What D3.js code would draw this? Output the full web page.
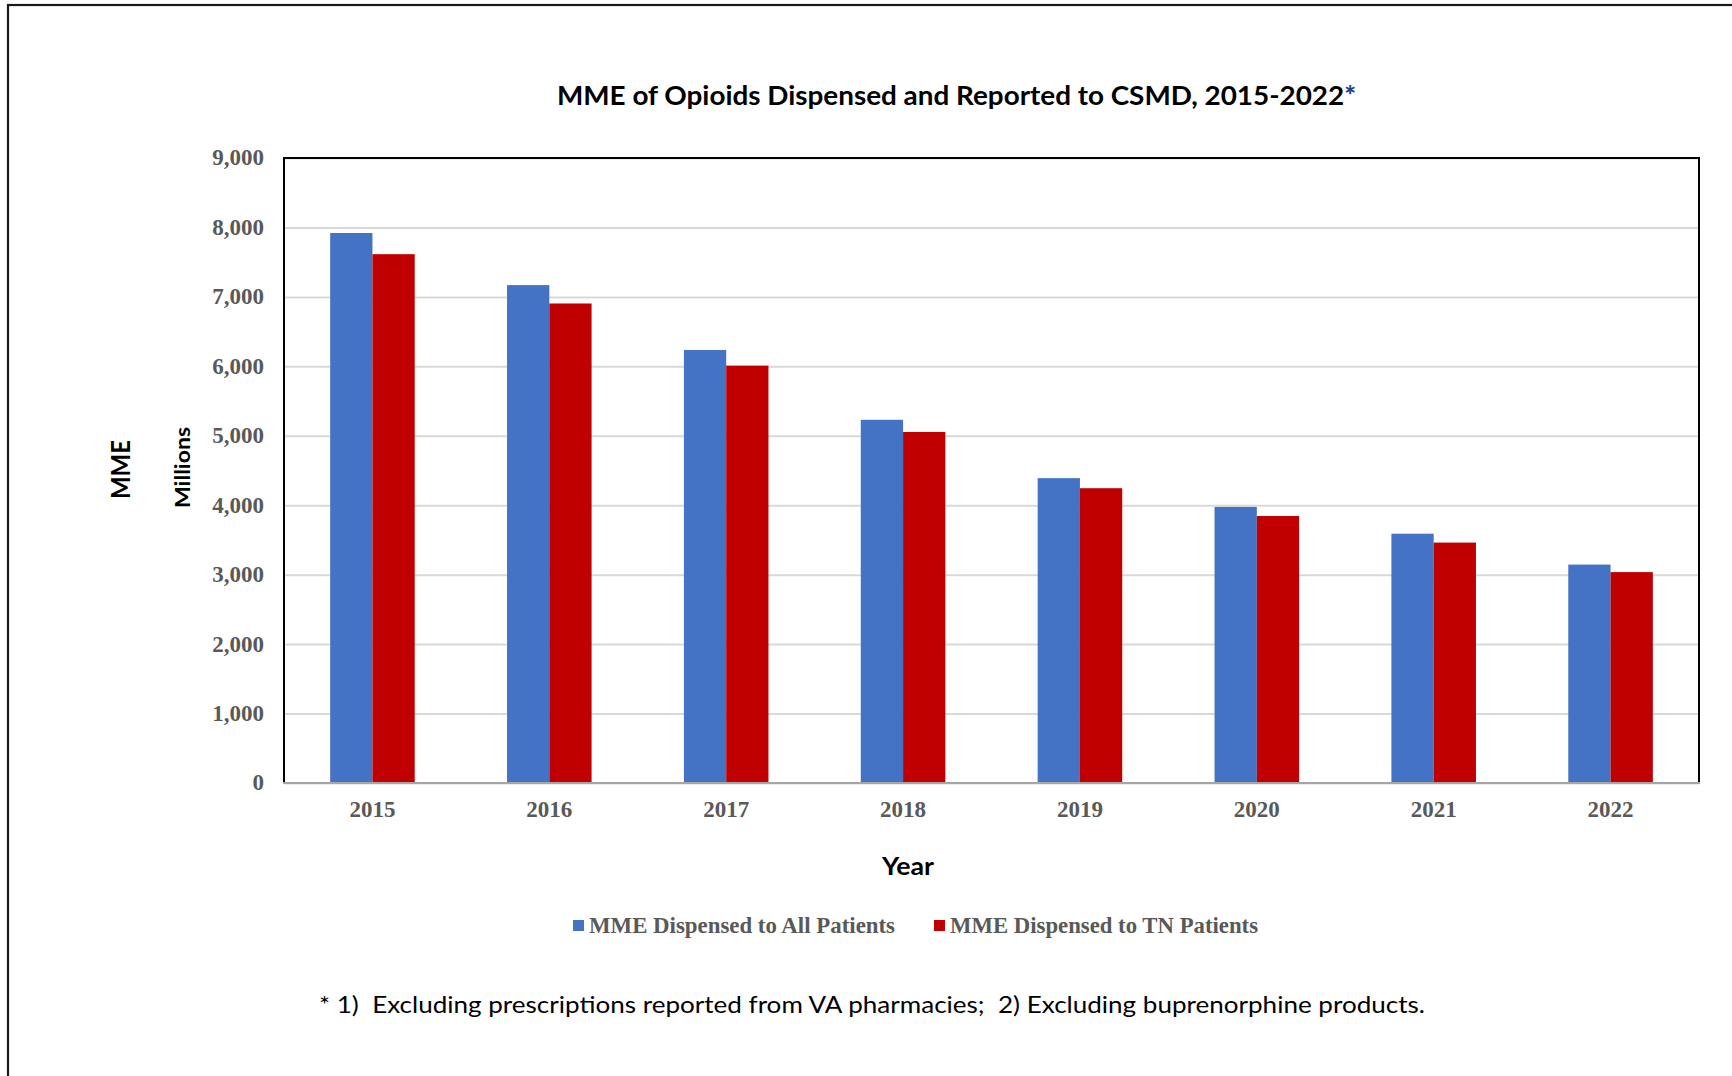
<!DOCTYPE html>
<html>
<head>
<meta charset="utf-8">
<script src="https://cdn.jsdelivr.net/npm/d3@7"></script>
<style>
  html, body { margin: 0; padding: 0; background: #fff; }
  svg { display: block; }
</style>
</head>
<body>
<svg id="chart" width="1732" height="1076"></svg>
<script>
const years = ['2015', '2016', '2017', '2018', '2019', '2020', '2021', '2022'];
const allPatients = [7920, 7170, 6235, 5230, 4390, 3975, 3590, 3145];
const tnPatients = [7615, 6905, 6010, 5055, 4245, 3845, 3462, 3037];
const seriesNames = ['MME Dispensed to All Patients', 'MME Dispensed to TN Patients'];
const yTicks = [0, 1000, 2000, 3000, 4000, 5000, 6000, 7000, 8000, 9000];

const colors = ['#4472C4', '#C00000'];
const svg = d3.select('#chart');

// outer frame
svg.append('rect')
  .attr('x', 8).attr('y', 5).attr('width', 1800).attr('height', 1200)
  .attr('fill', 'none').attr('stroke', '#1a1a1a').attr('stroke-width', 2.2);

const plot = { left: 284, right: 1699, top: 158, bottom: 783 };

const x0 = d3.scaleBand().domain(years).range([plot.left, plot.right])
  .paddingInner(0.522).paddingOuter(0.261);
const x1 = d3.scaleBand().domain([0, 1]).range([0, x0.bandwidth()]);
const y = d3.scaleLinear().domain([0, 9000]).range([plot.bottom, plot.top]);

// gridlines
const grid = svg.append('g')
  .attr('transform', `translate(${plot.left},0)`)
  .call(d3.axisLeft(y).tickValues(yTicks).tickSize(-(plot.right - plot.left)).tickFormat(''));
grid.select('.domain').remove();
grid.selectAll('line').attr('stroke', '#d9d9d9').attr('stroke-width', 2);

// bars
const series = [allPatients, tnPatients];
series.forEach((vals, si) => {
  svg.append('g').selectAll('rect')
    .data(years.map((yr, i) => ({ yr, v: vals[i] })))
    .join('rect')
    .attr('x', d => x0(d.yr) + x1(si))
    .attr('y', d => y(d.v))
    .attr('width', x1.bandwidth())
    .attr('height', d => y(0) - y(d.v))
    .attr('fill', colors[si]);
});

// plot frame
svg.append('path')
  .attr('d', `M${plot.left},${plot.bottom} L${plot.left},${plot.top} L${plot.right},${plot.top} L${plot.right},${plot.bottom}`)
  .attr('fill', 'none').attr('stroke', '#000').attr('stroke-width', 2);
svg.append('line')
  .attr('x1', plot.left - 1).attr('x2', plot.right + 1)
  .attr('y1', plot.bottom).attr('y2', plot.bottom)
  .attr('stroke', '#a6a6a6').attr('stroke-width', 2);

// y axis labels
const yAxis = svg.append('g')
  .attr('transform', `translate(${plot.left},0)`)
  .call(d3.axisLeft(y).tickValues(yTicks).tickSize(0).tickPadding(20).tickFormat(d3.format(',')));
yAxis.select('.domain').remove();
yAxis.selectAll('text')
  .attr('font-family', '"Liberation Serif", "Times New Roman", serif')
  .attr('font-weight', 'bold').attr('font-size', 23).attr('fill', '#595959')
  .attr('dy', '0.3em');

// x axis labels
const xAxis = svg.append('g')
  .attr('transform', `translate(0,${plot.bottom})`)
  .call(d3.axisBottom(x0).tickSize(0).tickPadding(0));
xAxis.select('.domain').remove();
xAxis.selectAll('text')
  .attr('font-family', '"Liberation Serif", "Times New Roman", serif')
  .attr('font-weight', 'bold').attr('font-size', 23).attr('fill', '#595959')
  .attr('y', 34).attr('dy', 0);

const sans = 'Lato, "Open Sans", sans-serif';

// title
const title = svg.append('text')
  .attr('x', 557).attr('y', 105)
  .attr('font-family', sans).attr('font-weight', 'bold').attr('font-size', 26)
  .attr('fill', '#000')
  .attr('textLength', 799).attr('lengthAdjust', 'spacingAndGlyphs');
title.append('tspan').text('MME of Opioids Dispensed and Reported to CSMD, 2015-2022');
title.append('tspan').attr('fill', '#1F3F8F').attr('font-weight', 900).text('*');

// axis titles
svg.append('text')
  .attr('transform', 'translate(130,469.5) rotate(-90)')
  .attr('text-anchor', 'middle')
  .attr('font-family', sans).attr('font-weight', 'bold').attr('font-size', 26)
  .attr('textLength', 59).attr('lengthAdjust', 'spacingAndGlyphs')
  .text('MME');
svg.append('text')
  .attr('transform', 'translate(190,467.5) rotate(-90)')
  .attr('text-anchor', 'middle')
  .attr('font-family', sans).attr('font-weight', 'bold').attr('font-size', 21)
  .attr('textLength', 81).attr('lengthAdjust', 'spacingAndGlyphs')
  .text('Millions');
svg.append('text')
  .attr('x', 908).attr('y', 875)
  .attr('text-anchor', 'middle')
  .attr('font-family', sans).attr('font-weight', 'bold').attr('font-size', 24)
  .attr('textLength', 52).attr('lengthAdjust', 'spacingAndGlyphs')
  .text('Year');

// legend
const legendX = [573, 934];
const legendW = [306, 308];
seriesNames.forEach((name, i) => {
  svg.append('rect')
    .attr('x', legendX[i]).attr('y', 920).attr('width', 11).attr('height', 11)
    .attr('fill', colors[i]);
  svg.append('text')
    .attr('x', legendX[i] + 16).attr('y', 933)
    .attr('font-family', '"Liberation Serif", "Times New Roman", serif')
    .attr('font-weight', 'bold').attr('font-size', 23).attr('fill', '#595959')
    .attr('textLength', legendW[i]).attr('lengthAdjust', 'spacingAndGlyphs')
    .text(name);
});

// footnote
svg.append('text')
  .attr('x', 319).attr('y', 1013)
  .attr('font-family', sans).attr('font-size', 24).attr('fill', '#000')
  .attr('xml:space', 'preserve').style('white-space', 'pre')
  .attr('textLength', 1106).attr('lengthAdjust', 'spacingAndGlyphs')
  .text('* 1)  Excluding prescriptions reported from VA pharmacies;  2) Excluding buprenorphine products.');
</script>
</body>
</html>
